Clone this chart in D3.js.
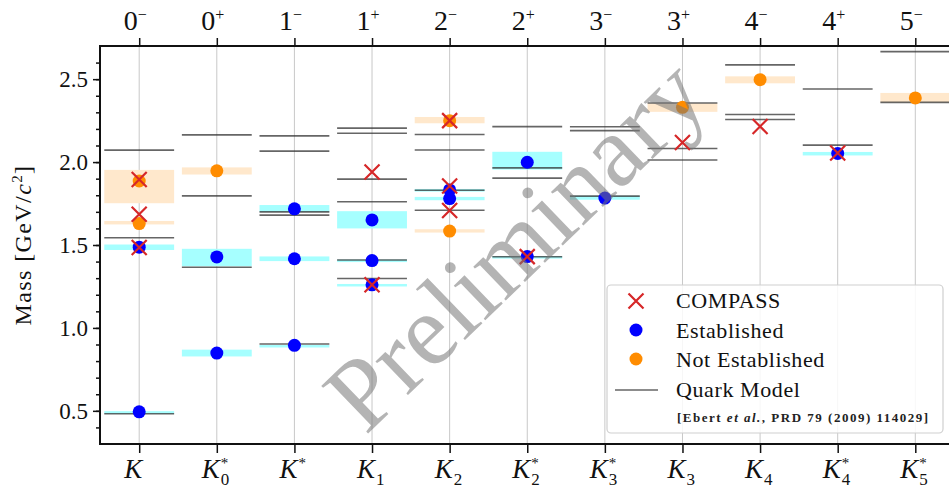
<!DOCTYPE html>
<html>
<head>
<meta charset="utf-8">
<script src="https://cdn.jsdelivr.net/npm/d3@7"></script>
<style>
  body { margin: 0; background: #fff; }
  svg { display: block; font-family: "Liberation Serif", "DejaVu Serif", serif; }
</style>
</head>
<body>
<div id="chart"></div>
<script>
// kaon families along the x axis
var states = ['K', 'K0*', 'K*', 'K1', 'K2', 'K2*', 'K3*', 'K3', 'K4', 'K4*', 'K5*'];
var spinLabels = ['0', '0', '1', '1', '2', '2', '3', '3', '4', '4', '5'];
var parityLabels = ['\u2212', '+', '\u2212', '+', '\u2212', '+', '\u2212', '+', '\u2212', '+', '\u2212'];
var subLabels = ['', '0', '', '1', '2', '2', '3', '3', '4', '4', '5'];
var starLabels = [false, true, true, false, false, true, true, false, false, true, true];
var massTicks = [0.5, 1.0, 1.5, 2.0, 2.5];

// COMPASS observations [state, mass]
var compass = [
  ['K', 1.895], ['K', 1.685], ['K', 1.485],
  ['K1', 1.940], ['K1', 1.260],
  ['K2', 2.250], ['K2', 1.856], ['K2', 1.708],
  ['K2*', 1.430],
  ['K3', 2.118],
  ['K4', 2.215],
  ['K4*', 2.055]
];

// PDG established states [state, mass, low, high]
var established = [
  ['K', 0.494, 0.490, 0.498], ['K', 1.487, 1.470, 1.503],
  ['K0*', 0.848, 0.828, 0.869], ['K0*', 1.428, 1.372, 1.477],
  ['K*', 0.895, 0.893, 0.897], ['K*', 1.417, 1.403, 1.431], ['K*', 1.718, 1.700, 1.741],
  ['K1', 1.260, 1.250, 1.265], ['K1', 1.406, 1.398, 1.412], ['K1', 1.651, 1.600, 1.704],
  ['K2', 1.780, 1.770, 1.790], ['K2', 1.832, 1.822, 1.838],
  ['K2*', 1.430, 1.427, 1.433], ['K2*', 1.999, 1.955, 2.062],
  ['K3*', 1.783, 1.773, 1.797],
  ['K4*', 2.052, 2.040, 2.061]
];

// PDG states that are not established [state, mass, low, high]
var notEstablished = [
  ['K', 1.629, 1.624, 1.645], ['K', 1.886, 1.752, 1.953],
  ['K0*', 1.947, 1.925, 1.968],
  ['K2', 1.584, 1.575, 1.595], ['K2', 2.250, 2.234, 2.272],
  ['K3', 2.330, 2.303, 2.354],
  ['K4', 2.497, 2.475, 2.517],
  ['K5*', 2.387, 2.360, 2.417]
];

// quark model predictions [state, mass]
var quarkModel = [
  ['K', 0.482], ['K', 1.544], ['K', 2.072],
  ['K0*', 1.366], ['K0*', 1.796], ['K0*', 2.164],
  ['K*', 0.903], ['K*', 1.680], ['K*', 1.700], ['K*', 2.066], ['K*', 2.158],
  ['K1', 1.298], ['K1', 1.410], ['K1', 1.761], ['K1', 1.897], ['K1', 2.174], ['K1', 2.205],
  ['K2', 1.710], ['K2', 1.830], ['K2', 2.073], ['K2', 2.166],
  ['K2*', 1.429], ['K2*', 1.903], ['K2*', 1.965], ['K2*', 2.214],
  ['K3*', 1.795], ['K3*', 2.190], ['K3*', 2.213],
  ['K3', 2.013], ['K3', 2.082], ['K3', 2.356],
  ['K4', 2.257], ['K4', 2.287], ['K4', 2.586],
  ['K4*', 2.102], ['K4*', 2.441],
  ['K5*', 2.360], ['K5*', 2.666]
];

var width = 949, height = 493;
var plotLeft = 100, plotTop = 46, plotBottom = 444, plotRight = 954;

var svg = d3.select('#chart').append('svg')
  .attr('width', width)
  .attr('height', height);

var x = d3.scalePoint().domain(states).range([139.2, 915.3]);
var y = d3.scaleLinear().domain([0.3, 2.7]).range([plotBottom, plotTop]);
var half = x.step() * 0.45;

var red = '#d62728', blue = '#0000ff', orange = '#ff8c00';

// vertical grid
svg.append('g').selectAll('line')
  .data(states).enter().append('line')
  .attr('x1', function(d) { return x(d); })
  .attr('x2', function(d) { return x(d); })
  .attr('y1', plotTop).attr('y2', plotBottom)
  .attr('stroke', '#c8c8c8')
  .attr('stroke-width', 1);

// uncertainty bands
function bands(data, color) {
  svg.append('g').selectAll('rect')
    .data(data).enter().append('rect')
    .attr('x', function(d) { return x(d[0]) - half; })
    .attr('width', half * 2)
    .attr('y', function(d) { return y(d[3]); })
    .attr('height', function(d) { return Math.max(2.5, y(d[2]) - y(d[3])); })
    .attr('fill', color);
}
bands(established, '#a6ffff');
bands(notEstablished, '#ffe8cc');

// quark model lines
svg.append('g').selectAll('line')
  .data(quarkModel).enter().append('line')
  .attr('x1', function(d) { return x(d[0]) - half; })
  .attr('x2', function(d) { return x(d[0]) + half; })
  .attr('y1', function(d) { return y(d[1]); })
  .attr('y2', function(d) { return y(d[1]); })
  .attr('stroke', '#333')
  .attr('stroke-opacity', 0.75)
  .attr('stroke-width', 1.6);

function dots(data, color) {
  svg.append('g').selectAll('circle')
    .data(data).enter().append('circle')
    .attr('cx', function(d) { return x(d[0]); })
    .attr('cy', function(d) { return y(d[1]); })
    .attr('r', 6.5)
    .attr('fill', color);
}
dots(established, blue);
dots(notEstablished, orange);

function cross(sel, s) {
  sel.append('path')
    .attr('d', 'M' + (-s) + ',' + (-s) + 'L' + s + ',' + s + 'M' + (-s) + ',' + s + 'L' + s + ',' + (-s))
    .attr('stroke', red)
    .attr('stroke-width', 2.2)
    .attr('fill', 'none');
}
svg.append('g').selectAll('g')
  .data(compass).enter().append('g')
  .attr('transform', function(d) { return 'translate(' + x(d[0]) + ',' + y(d[1]) + ')'; })
  .each(function() { cross(d3.select(this), 7.5); });

// axes
svg.append('g')
  .attr('transform', 'translate(' + plotLeft + ',0)')
  .call(d3.axisLeft(y).tickValues(d3.range(0.4, 2.65, 0.1)).tickSize(4).tickFormat(''))
  .call(function(g) { g.select('.domain').remove(); });
var yAxis = svg.append('g')
  .attr('transform', 'translate(' + plotLeft + ',0)')
  .call(d3.axisLeft(y).tickValues(massTicks).tickSize(7).tickPadding(5).tickFormat(d3.format('.1f')));
yAxis.select('.domain').remove();
yAxis.attr('font-family', null).attr('font-size', null);
yAxis.selectAll('text').attr('font-size', 23).attr('fill', '#111').attr('dy', '0.34em');

var xTop = svg.append('g')
  .attr('transform', 'translate(0,' + plotTop + ')')
  .call(d3.axisTop(x).tickSize(8).tickFormat(''));
xTop.select('.domain').remove();
var xBottom = svg.append('g')
  .attr('transform', 'translate(0,' + plotBottom + ')')
  .call(d3.axisBottom(x).tickSize(9).tickFormat(''));
xBottom.select('.domain').remove();
svg.selectAll('.tick line').attr('stroke', '#111').attr('stroke-width', 1.5);

svg.append('rect')
  .attr('x', plotLeft).attr('y', plotTop)
  .attr('width', plotRight - plotLeft).attr('height', plotBottom - plotTop)
  .attr('fill', 'none')
  .attr('stroke', '#111')
  .attr('stroke-width', 2);

// J^P labels on top
var jp = svg.append('g').selectAll('text')
  .data(states).enter().append('text')
  .attr('x', function(d) { return x(d) - 4; })
  .attr('y', 30)
  .attr('text-anchor', 'middle')
  .attr('font-size', 28)
  .attr('fill', '#111');
jp.append('tspan').text(function(d, i) { return spinLabels[i]; });
jp.append('tspan')
  .attr('dy', -10)
  .attr('font-size', 16)
  .text(function(d, i) { return parityLabels[i]; });

// state names at the bottom
var names = svg.append('g').selectAll('text')
  .data(states).enter().append('text')
  .attr('transform', function(d) { return 'translate(' + x(d) + ',478)'; })
  .attr('fill', '#111');
names.append('tspan')
  .attr('x', -15).attr('y', 0)
  .attr('font-size', 27)
  .attr('font-style', 'italic')
  .text('K');
names.append('tspan')
  .attr('x', 4).attr('y', -10)
  .attr('font-size', 15)
  .text(function(d, i) { return starLabels[i] ? '*' : ''; });
names.append('tspan')
  .attr('x', 4).attr('y', 7)
  .attr('font-size', 17)
  .text(function(d, i) { return subLabels[i]; });

// y title
var ttl = svg.append('text')
  .attr('transform', 'translate(31,' + ((plotTop + plotBottom) / 2) + ') rotate(-90)')
  .attr('text-anchor', 'middle')
  .attr('font-size', 24)
  .attr('letter-spacing', 1.4)
  .attr('fill', '#111');
ttl.append('tspan').text('Mass [GeV/');
ttl.append('tspan').attr('font-style', 'italic').text('c');
ttl.append('tspan').attr('dy', -9).attr('font-size', 15).text('2');
ttl.append('tspan').attr('dy', 9).text(']');

// legend
var lg = svg.append('g');
lg.append('rect')
  .attr('x', 607).attr('y', 285)
  .attr('width', 336).attr('height', 148)
  .attr('rx', 4)
  .attr('fill', '#fff').attr('fill-opacity', 0.85)
  .attr('stroke', '#cfcfcf').attr('stroke-width', 1.2);
cross(lg.append('g').attr('transform', 'translate(636,301)'), 7.5);
lg.append('circle').attr('cx', 636).attr('cy', 330).attr('r', 6.5).attr('fill', blue);
lg.append('circle').attr('cx', 636).attr('cy', 359).attr('r', 6.5).attr('fill', orange);
lg.append('line').attr('x1', 615).attr('x2', 658).attr('y1', 390).attr('y2', 390)
  .attr('stroke', '#333').attr('stroke-opacity', 0.75).attr('stroke-width', 1.6);
var legendText = ['COMPASS', 'Established', 'Not Established', 'Quark Model'];
lg.selectAll('text.item')
  .data(legendText).enter().append('text')
  .attr('class', 'item')
  .attr('x', 676)
  .attr('y', function(d, i) { return 308 + i * 29.5; })
  .attr('font-size', 22)
  .attr('letter-spacing', 0.6)
  .attr('fill', '#111')
  .text(function(d) { return d; });
var cite = lg.append('text')
  .attr('x', 677).attr('y', 422)
  .attr('font-size', 13)
  .attr('letter-spacing', 1.5)
  .attr('font-weight', 'bold')
  .attr('fill', '#222');
cite.append('tspan').text('[Ebert ');
cite.append('tspan').attr('font-style', 'italic').text('et al.');
cite.append('tspan').text(', PRD 79 (2009) 114029]');

// watermark
svg.append('text')
  .attr('transform', 'translate(514,243) rotate(-44)')
  .attr('text-anchor', 'middle')
  .attr('dy', '0.35em')
  .attr('font-size', 102)
  .attr('fill', '#777')
  .attr('fill-opacity', 0.55)
  .text('Preliminary');
</script>
</body>
</html>
